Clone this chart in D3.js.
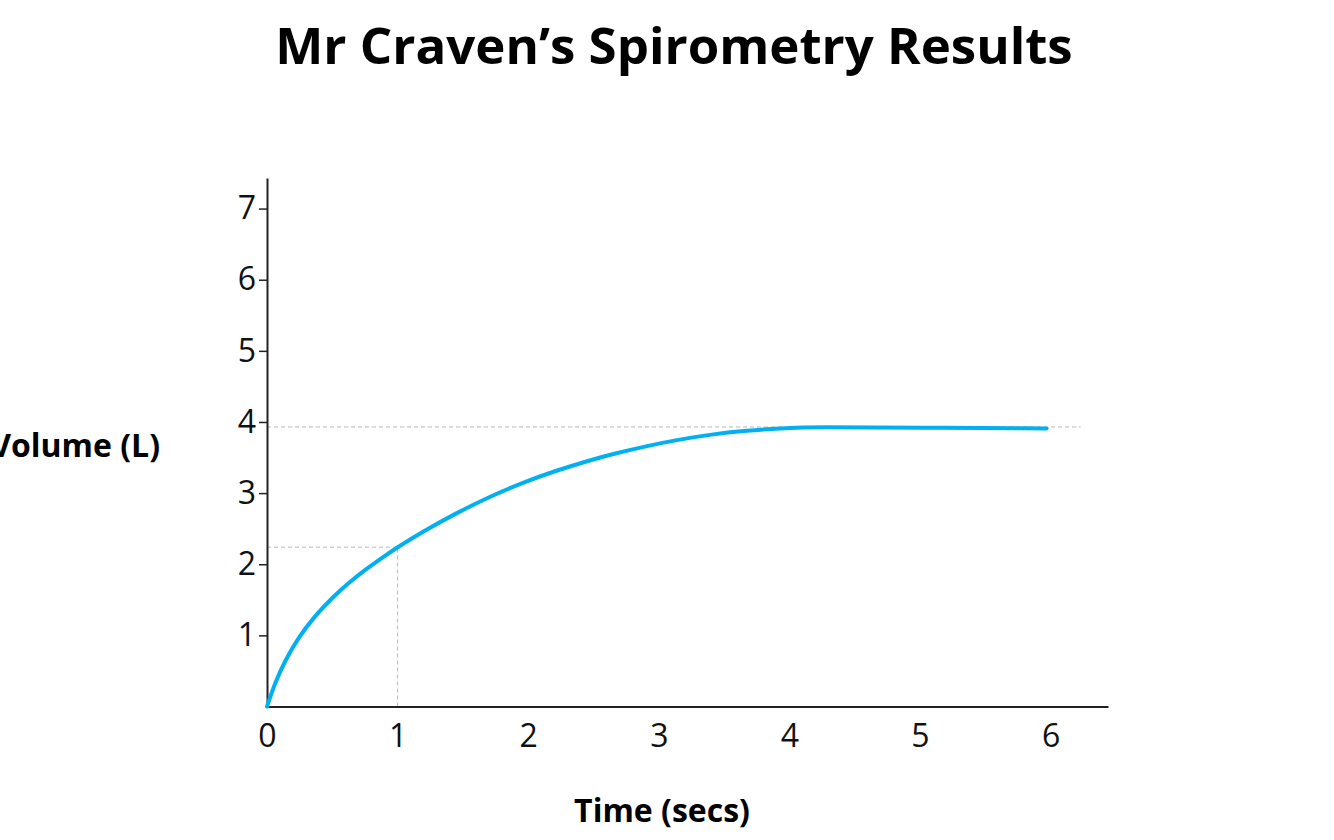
<!DOCTYPE html>
<html>
<head>
<meta charset="utf-8">
<script src="https://cdn.jsdelivr.net/npm/d3@7"></script>
<style>
    body { margin: 0; background: #fff; }
    svg { display: block; font-family: "Open Sans", sans-serif; }
</style>
</head>
<body>
<div id="chart"></div>
<script>
// curve (time in secs, volume in litres)
const timeSecs = [0, 0.06, 0.14, 0.24, 0.37, 0.5, 0.62, 0.75, 0.88, 1, 1.2, 1.45, 1.7, 1.96, 2.22, 2.46, 2.65, 2.9, 3.16, 3.42, 3.67, 3.93, 4.2, 5, 5.97];
const volumeL  = [0, 0.33, 0.65, 0.97, 1.28, 1.53, 1.73, 1.92, 2.09, 2.24, 2.465, 2.72, 2.945, 3.15, 3.32, 3.455, 3.55, 3.66, 3.755, 3.83, 3.88, 3.91, 3.93, 3.92, 3.91];

const xTicks = [0, 1, 2, 3, 4, 5, 6];
const yTicks = [1, 2, 3, 4, 5, 6, 7];

// guide lines: FEV1 at 1 sec and FVC plateau
const fev1 = { time: 1, volume: 2.24 };
const fvc = { volume: 3.93, endTime: 6.23 };

const width = 1334, height = 840;
const margin = { top: 178, right: 226, bottom: 134, left: 267 };

const svg = d3.select("#chart").append("svg")
    .attr("width", width)
    .attr("height", height);

const x = d3.scaleLinear()
    .domain([0, 6.44])
    .range([margin.left, width - margin.right]);

const y = d3.scaleLinear()
    .domain([0, 7.43])
    .range([height - margin.bottom + 0.5, margin.top]);

// title
svg.append("text")
    .attr("x", 674)
    .attr("y", 64)
    .attr("text-anchor", "middle")
    .style("font-size", "51px")
    .style("font-weight", "bold")
    .attr("fill", "#000")
    .text("Mr Craven\u2019s Spirometry Results");

// dashed guides
const guide = svg.append("g")
    .attr("fill", "none")
    .attr("stroke", "#b8b8b8")
    .attr("stroke-width", 1)
    .attr("stroke-dasharray", "4,3");

guide.append("line")
    .attr("x1", x(0)).attr("x2", x(fvc.endTime))
    .attr("y1", y(fvc.volume)).attr("y2", y(fvc.volume));

guide.append("line")
    .attr("x1", x(0)).attr("x2", x(fev1.time))
    .attr("y1", y(fev1.volume)).attr("y2", y(fev1.volume));

guide.append("line")
    .attr("x1", x(fev1.time)).attr("x2", x(fev1.time))
    .attr("y1", y(0)).attr("y2", y(fev1.volume));

// axes
const xAxis = svg.append("g")
    .attr("transform", "translate(0," + y(0) + ")")
    .call(d3.axisBottom(x).tickValues(xTicks).tickFormat(d3.format("d"))
        .tickSize(0).tickPadding(18).tickSizeOuter(0));

const yAxis = svg.append("g")
    .attr("transform", "translate(" + x(0) + ",0)")
    .call(d3.axisLeft(y).tickValues(yTicks).tickFormat(d3.format("d"))
        .tickSize(8).tickPadding(3).tickSizeOuter(0));

[xAxis, yAxis].forEach(function (g) {
    g.select(".domain").attr("stroke", "#222").attr("stroke-width", 2);
    g.selectAll(".tick line").attr("stroke", "#222").attr("stroke-width", 1.5);
    g.selectAll(".tick text")
        .attr("fill", "#111")
        .style("font-size", "32px")
        .style("font-family", "Open Sans, sans-serif");
});

// curve (basis smooths out the reading noise)
const points = timeSecs.map(function (t, i) { return [t, volumeL[i]]; });

const line = d3.line()
    .x(function (d) { return x(d[0]); })
    .y(function (d) { return y(d[1]); })
    .curve(d3.curveBasis);

svg.append("path")
    .datum(points)
    .attr("fill", "none")
    .attr("stroke", "#00b0f0")
    .attr("stroke-width", 4)
    .attr("stroke-linecap", "round")
    .attr("d", line);

// axis titles
svg.append("text")
    .attr("x", 160)
    .attr("y", 457)
    .attr("text-anchor", "end")
    .style("font-size", "32px")
    .style("font-weight", "bold")
    .attr("fill", "#000")
    .text("Volume (L)");

svg.append("text")
    .attr("x", 662)
    .attr("y", 822)
    .attr("text-anchor", "middle")
    .style("font-size", "32px")
    .style("font-weight", "bold")
    .attr("fill", "#000")
    .text("Time (secs)");
</script>
</body>
</html>
